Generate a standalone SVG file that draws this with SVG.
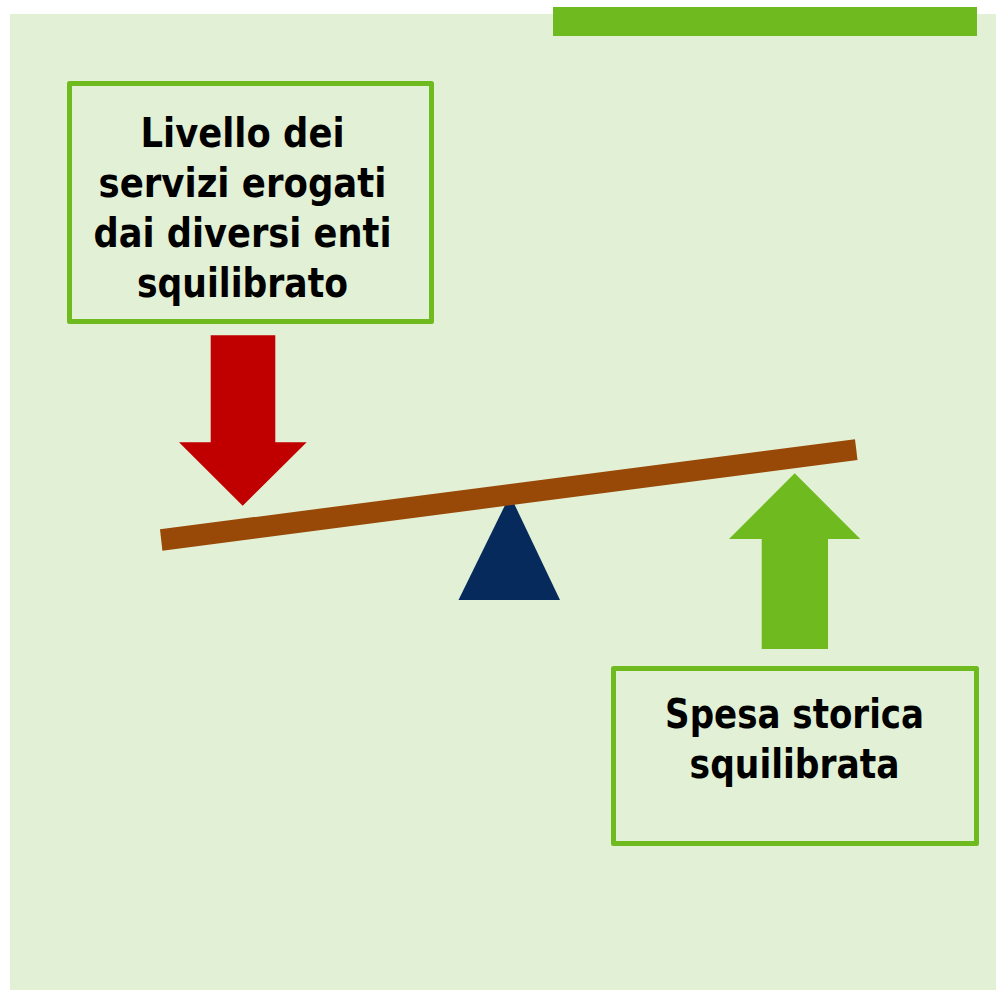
<svg xmlns="http://www.w3.org/2000/svg" width="996" height="991" viewBox="0 0 996 991">
  <style>
    .box { fill: #e2f0d5; stroke: #6fba1f; stroke-width: 5; stroke-linejoin: round; }
    .lbl { font-family: "DejaVu Sans", "Liberation Sans", sans-serif; font-weight: bold; font-size: 40px; fill: #000000; text-anchor: middle; }
  </style>
  <rect width="996" height="991" fill="#ffffff"/>
  <rect id="background" x="10" y="14" width="986" height="976" fill="#e2f0d5"/>
  <rect id="top-bar" x="553" y="7" width="424" height="29" fill="#6fba1f"/>

  <g id="node-livello">
    <rect class="box" x="69.5" y="83.5" width="362" height="238"/>
    <text class="lbl" x="242.5" y="146.5" textLength="204" lengthAdjust="spacingAndGlyphs">Livello dei</text>
    <text class="lbl" x="242.5" y="196.5" textLength="288" lengthAdjust="spacingAndGlyphs">servizi erogati</text>
    <text class="lbl" x="242.5" y="246.5" textLength="298" lengthAdjust="spacingAndGlyphs">dai diversi enti</text>
    <text class="lbl" x="242.5" y="296.5" textLength="211" lengthAdjust="spacingAndGlyphs">squilibrato</text>
  </g>

  <g id="node-spesa">
    <rect class="box" x="613.5" y="668.5" width="363" height="175"/>
    <text class="lbl" x="794.6" y="728" textLength="259" lengthAdjust="spacingAndGlyphs">Spesa storica</text>
    <text class="lbl" x="794.6" y="778" textLength="210" lengthAdjust="spacingAndGlyphs">squilibrata</text>
  </g>

  <g id="fulcrum">
    <polygon points="510,495 560,600 458.5,600" fill="#072a5c"/>
  </g>

  <g id="beam">
    <polygon points="160,529.3 855,439.3 857.5,460 162.4,550.7" fill="#984807"/>
  </g>

  <g id="connectors">
    <polygon id="arrow-down" points="210.7,335.3 275.3,335.3 275.3,442.3 306.7,442.3 242.7,505.7 179,442.3 210.7,442.3" fill="#c00000"/>
    <polygon id="arrow-up" points="794.7,473.3 860.3,539 828,539 828,649 761.7,649 761.7,539 729,539" fill="#6fba1f"/>
  </g>
</svg>
